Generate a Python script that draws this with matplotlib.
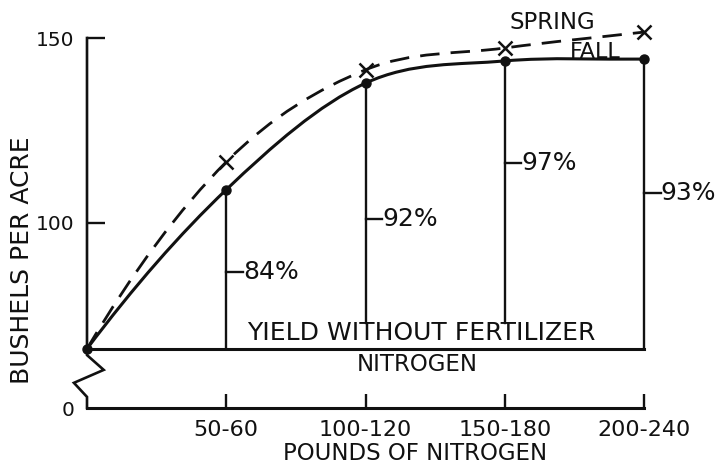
import numpy as np
import matplotlib
matplotlib.use("Agg")
import matplotlib.pyplot as plt
from matplotlib.path import Path
from matplotlib.patches import PathPatch

# ---------------- data ----------------
categories = ["0", "50-60", "100-120", "150-180", "200-240"]
fall_yield = [66, 109, 137.8, 143.8, 144.3]
spring_yield = [66, 116.5, 141.4, 147.3, 151.6]
baseline_yield = 66
pct_labels = ["84%", "92%", "97%", "93%"]
pct_label_y = [86.8, 101, 116.2, 108.1]
vline_bottom = [66, 73, 73, 66]
ytick_values = [50, 100, 150]
ytick_labels = ["0", "100", "150"]

x = np.arange(len(categories))

fig = plt.figure(figsize=(7.22, 4.72), dpi=100)
ax = fig.add_axes([87/722, 1-408/472, (644-87)/722, (408-38)/472])
ax.set_xlim(0, 4)
ax.set_ylim(50, 150)
ink = "#111111"


def smooth_path(xs, ys):
    # Hermite curve through the points, drawn as cubic Bezier segments
    pts = np.column_stack([xs, ys]).astype(float)
    n = len(pts)
    m = np.zeros_like(pts)
    for i in range(1, n - 1):
        m[i] = (pts[i + 1] - pts[i - 1]) / 2.0
    m[0] = 2 * (pts[1] - pts[0]) - m[1]
    m[-1] = pts[-1] - pts[-2]
    verts = [pts[0]]
    codes = [Path.MOVETO]
    for i in range(n - 1):
        verts += [pts[i] + m[i] / 3.0, pts[i + 1] - m[i + 1] / 3.0, pts[i + 1]]
        codes += [Path.CURVE4] * 3
    return Path(verts, codes)


fall_patch = PathPatch(smooth_path(x, fall_yield), fill=False, lw=2.2,
                       edgecolor=ink, clip_on=False, capstyle="round")
ax.add_patch(fall_patch)
spring_patch = PathPatch(smooth_path(x, spring_yield), fill=False, lw=2.0,
                         edgecolor=ink, clip_on=False, linestyle=(0, (7, 4)))
ax.add_patch(spring_patch)

ax.plot(x, fall_yield, "o", color=ink, ms=6.5, clip_on=False, zorder=5)
ax.plot(x[1:], spring_yield[1:], "x", color=ink, ms=10, mew=1.8,
        clip_on=False, zorder=5)

# baseline
ax.plot([x[0], x[-1]], [baseline_yield, baseline_yield], color=ink, lw=2.2,
        clip_on=False)

# vertical drop lines and percentage labels
for i in range(1, len(categories)):
    ax.plot([x[i], x[i]], [vline_bottom[i-1], fall_yield[i]], color=ink,
            lw=1.7, clip_on=False)
    ax.plot([x[i], x[i] + 0.12], [pct_label_y[i-1]] * 2, color=ink, lw=1.7,
            clip_on=False)
    ax.text(x[i] + 0.12, pct_label_y[i-1], pct_labels[i-1], fontsize=18,
            ha="left", va="center", color=ink, clip_on=False)

ax.text(2.40, 67.0, "YIELD WITHOUT FERTILIZER", fontsize=18, ha="center",
        va="bottom", color=ink)
ax.text(2.37, 61.7, "NITROGEN", fontsize=16.5, ha="center", va="center",
        color=ink)
ax.text(3.34, 154.3, "SPRING", fontsize=16.5, ha="center", va="center",
        color=ink, clip_on=False)
ax.text(3.65, 146.2, "FALL", fontsize=16, ha="center", va="center",
        color=ink, clip_on=False)

# axes styling
for s in ["top", "right", "left"]:
    ax.spines[s].set_visible(False)
ax.spines["bottom"].set_linewidth(2.2)
ax.spines["bottom"].set_color(ink)
ax.spines["bottom"].set_bounds(0, 4)

# left spine with break symbol
brk_x = [0, 0, -0.094, 0.12, 0, 0]
brk_y = [50, 53, 56.8, 60.3, 64.3, 150]
ax.plot(brk_x, brk_y, color=ink, lw=1.9, clip_on=False, solid_joinstyle="miter")

ax.set_yticks(ytick_values)
ax.set_yticklabels(ytick_labels)
ax.tick_params(axis="y", direction="in", length=13, width=1.7, pad=9,
               labelsize=14.5, colors=ink)
ax.yaxis.get_major_ticks()[0].tick1line.set_visible(False)

ax.set_xticks(x[1:])
ax.set_xticklabels(categories[1:])
ax.tick_params(axis="x", direction="in", length=10, width=1.7, pad=9,
               labelsize=16, colors=ink)

fig.text(415/722, 1-454/472, "POUNDS OF NITROGEN", fontsize=16.5, ha="center",
         va="center", color=ink)
fig.text(22/722, 1-260/472, "BUSHELS PER ACRE", fontsize=18, ha="center",
         va="center", rotation=90, color=ink)

fig.savefig("out.png", dpi=100)
